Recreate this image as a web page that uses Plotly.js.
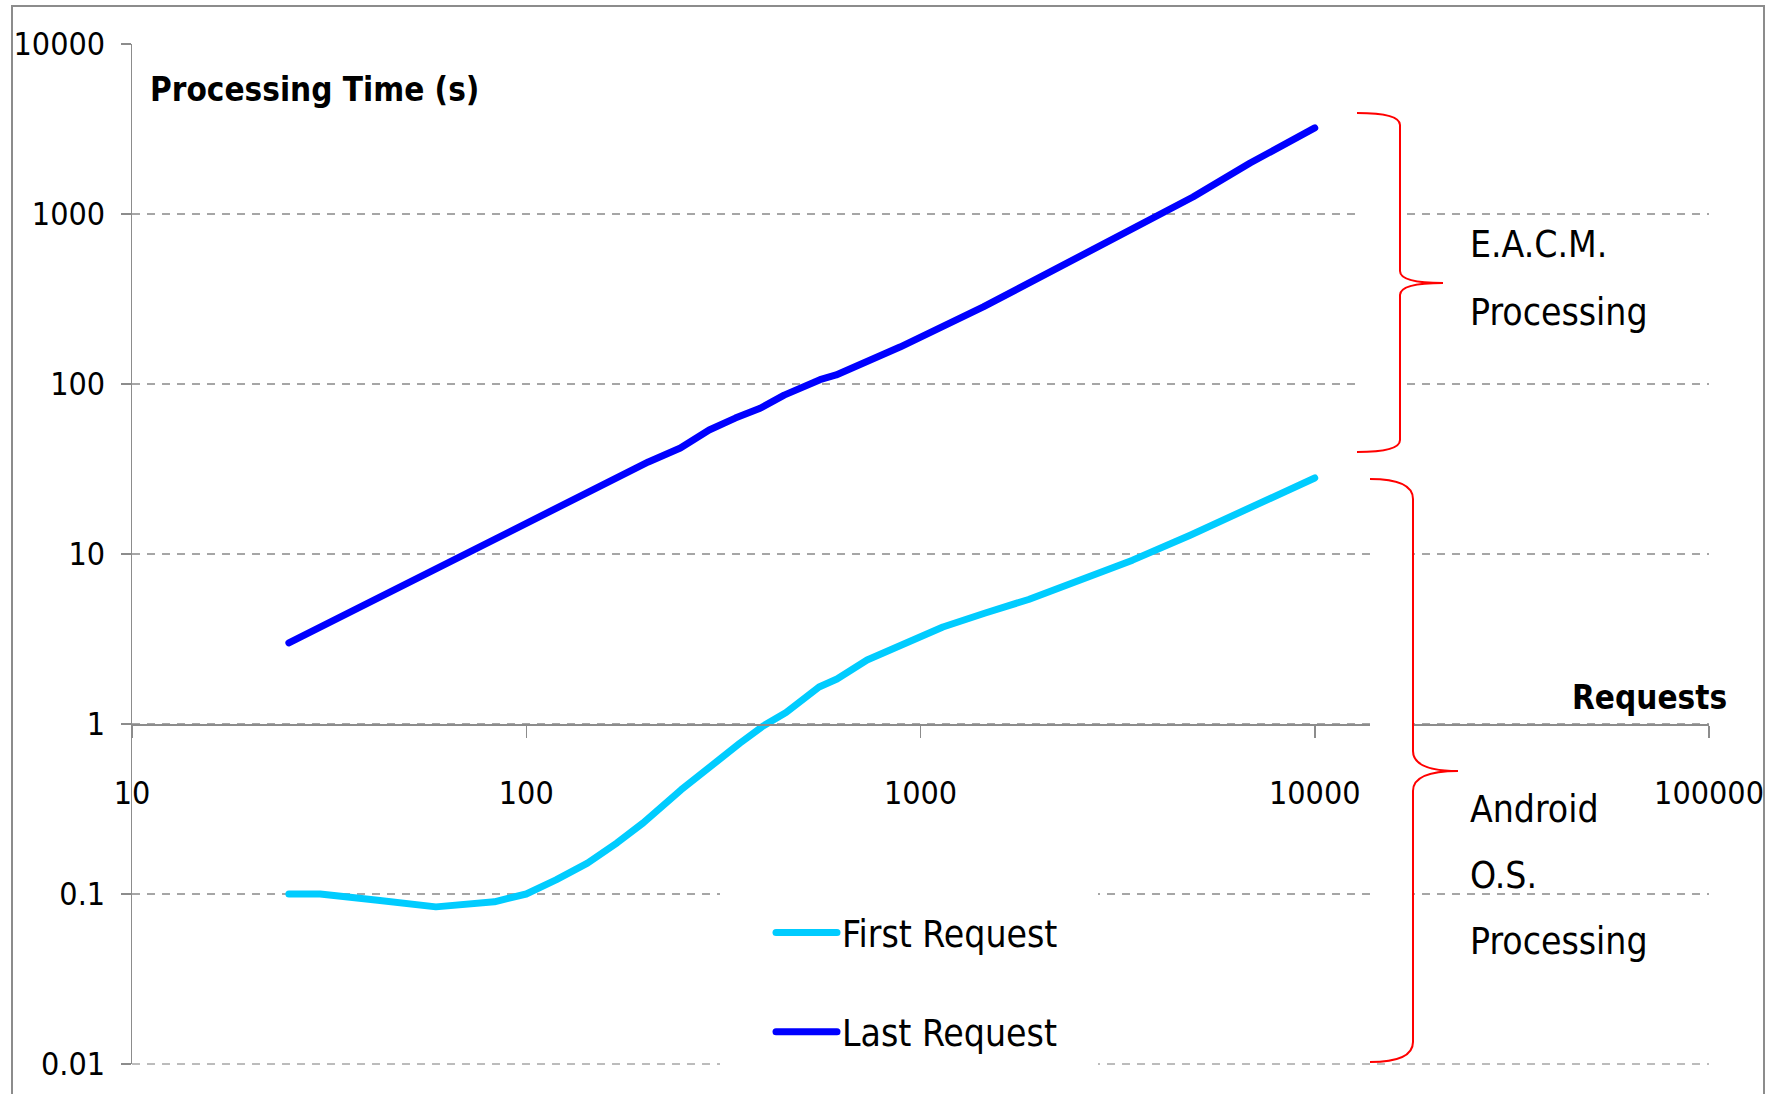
<!DOCTYPE html>
<html>
<head>
<meta charset="utf-8">
<script src="https://cdn.plot.ly/plotly-3.0.1.min.js"></script>
<style>
  html, body { margin: 0; padding: 0; background: #fff; }
  #chart { width: 1771px; height: 1094px; }
  .js-line { stroke-linecap: round; stroke-linejoin: round; }
</style>
</head>
<body>
<div id="chart"></div>
<script>
// ---- data ----
const firstReqX = [25, 30, 42, 59, 83, 100, 119, 143, 170, 198, 247, 296, 348, 398, 456, 553, 614, 732, 852, 1140, 1460, 1880, 3450, 4830, 10000];
const firstReqY = [0.1, 0.1, 0.092, 0.084, 0.090, 0.1, 0.121, 0.152, 0.2, 0.262, 0.41, 0.58, 0.77, 0.97, 1.17, 1.65, 1.84, 2.38, 2.75, 3.72, 4.5, 5.4, 9.2, 12.9, 28];
const lastReqX = [25, 50, 100, 140, 204, 246, 291, 339, 392, 451, 556, 611, 804, 887, 1443, 1897, 2904, 3459, 4910, 6855, 10000];
const lastReqY = [3.0, 6.7, 15, 22.2, 34.8, 42, 53.6, 63, 72, 86, 106, 113, 151, 165, 284, 398, 657, 828, 1259, 1995, 3210];
const seriesNames = ["First Request", "Last Request"];
const xTickVals = [10, 100, 1000, 10000, 100000];
const xTickText = ["10", "100", "1000", "10000", "100000"];
const yTickVals = [0.01, 0.1, 1, 10, 100, 1000, 10000];
const yTickText = ["0.01", "0.1", "1", "10", "100", "1000", "10000"];
const yAxisTitle = "Processing Time (s)";
const xAxisTitle = "Requests";
const upperLabel = ["E.A.C.M.", "Processing"];
const lowerLabel = ["Android", "O.S.", "Processing"];

// ---- layout geometry ----
const W = 1771, H = 1094;
const L = 132, R = 1709, T = 44, B = 1064;
const PW = R - L, PH = B - T;
const px = v => (v - L) / PW;
const py = v => (B - v) / PH;
const FONT = "'DejaVu Sans Condensed', 'Liberation Sans', sans-serif";
const GRAY = "#8c8c8c";
const GRID = "#a6a6a6";
const GRIDDASH = "8px,7px";

function bracePath(xl, xm, xt, yt, ym, yb, r) {
  const P = (x, y) => px(x).toFixed(5) + "," + py(y).toFixed(5);
  return "M" + P(xl, yt) +
    " Q" + P(xm, yt) + " " + P(xm, yt + r) +
    " L" + P(xm, ym - r) +
    " Q" + P(xm, ym) + " " + P(xt, ym) +
    " Q" + P(xm, ym) + " " + P(xm, ym + r) +
    " L" + P(xm, yb - r) +
    " Q" + P(xm, yb) + " " + P(xl, yb);
}

const traces = [
  { x: firstReqX, y: firstReqY, name: seriesNames[0], mode: "lines", legendgroup: "a",
    line: { color: "#00ccff", width: 7 } },
  { x: lastReqX, y: lastReqY, name: seriesNames[1], mode: "lines", legendgroup: "b",
    line: { color: "#0000ff", width: 7 } }
];

const annotations = [
  { text: "<b>" + yAxisTitle + "</b>", x: px(148), y: py(90), xanchor: "left", yanchor: "middle",
    font: { size: 33, color: "#000", family: FONT } },
  { text: "<b>" + xAxisTitle + "</b>", x: px(1729), y: py(697), xanchor: "right", yanchor: "middle",
    font: { size: 33, color: "#000", family: FONT } }
];
const upY = [245, 313];
upperLabel.forEach((t, i) => annotations.push({ text: t, x: px(1468), y: py(upY[i]), xanchor: "left", yanchor: "middle",
  font: { size: 37, color: "#000", family: FONT } }));
const loY = [809, 875, 941];
lowerLabel.forEach((t, i) => annotations.push({ text: t, x: px(1468), y: py(loY[i]), xanchor: "left", yanchor: "middle",
  font: { size: 37, color: "#000", family: FONT } }));
annotations.forEach(a => { a.xref = "paper"; a.yref = "paper"; a.showarrow = false; });

const shapes = [
  { type: "rect", xref: "paper", yref: "paper", x0: px(12), x1: px(1764), y0: py(1110), y1: py(6),
    line: { color: GRAY, width: 2 }, layer: "below" },
  // bottom gridline (0.01), which Plotly omits at the range edge
  { type: "line", xref: "paper", yref: "paper", x0: 0, x1: 1, y0: 0, y1: 0,
    line: { color: GRID, width: 1.5, dash: GRIDDASH }, layer: "below" },
  // white background of the legend box (hides the gridlines behind it)
  { type: "rect", xref: "paper", yref: "paper", x0: px(720), x1: px(1098), y0: py(1072), y1: py(880),
    line: { width: 0 }, fillcolor: "#ffffff", layer: "above" },
  { type: "path", xref: "paper", yref: "paper", layer: "above",
    path: bracePath(1357, 1400, 1443, 113, 283, 452, 12),
    line: { color: "#ff0000", width: 2 }, fillcolor: "#ffffff" },
  { type: "path", xref: "paper", yref: "paper", layer: "above",
    path: bracePath(1370, 1413, 1458, 479, 771, 1062, 20),
    line: { color: "#ff0000", width: 2 }, fillcolor: "#ffffff" }
];

const layout = {
  width: W, height: H,
  margin: { l: L, r: W - R, t: T, b: H - B },
  paper_bgcolor: "#fff", plot_bgcolor: "rgba(0,0,0,0)",
  font: { family: FONT, color: "#000" },
  showlegend: true,
  legend: { x: px(771), y: py(902), xanchor: "left", yanchor: "top", bgcolor: "rgba(255,255,255,0)",
    borderwidth: 0,
    font: { size: 37, family: FONT, color: "#000" }, tracegroupgap: 48, itemwidth: 61 },
  xaxis: {
    type: "log", range: [1, 5], anchor: "free", position: 1 / 3,
    showgrid: false, zeroline: false, showline: true, linecolor: GRAY, linewidth: 1.5,
    ticks: "outside", ticklen: 12, tickwidth: 1.5, tickcolor: GRAY,
    tickvals: xTickVals, ticktext: xTickText, ticklabelstandoff: 28,
    tickfont: { size: 32, family: FONT, color: "#000" }
  },
  yaxis: {
    type: "log", range: [-2, 4],
    showgrid: true, gridcolor: GRID, gridwidth: 1.5, griddash: GRIDDASH,
    zeroline: false, showline: true, linecolor: GRAY, linewidth: 1.5,
    ticks: "outside", ticklen: 10, tickwidth: 1.5, tickcolor: GRAY,
    tickvals: yTickVals, ticktext: yTickText, ticklabelstandoff: 9,
    tickfont: { size: 32, family: FONT, color: "#000" }
  },
  annotations: annotations,
  shapes: shapes
};

Plotly.newPlot("chart", traces, layout, { staticPlot: true, displayModeBar: false });
</script>
</body>
</html>
